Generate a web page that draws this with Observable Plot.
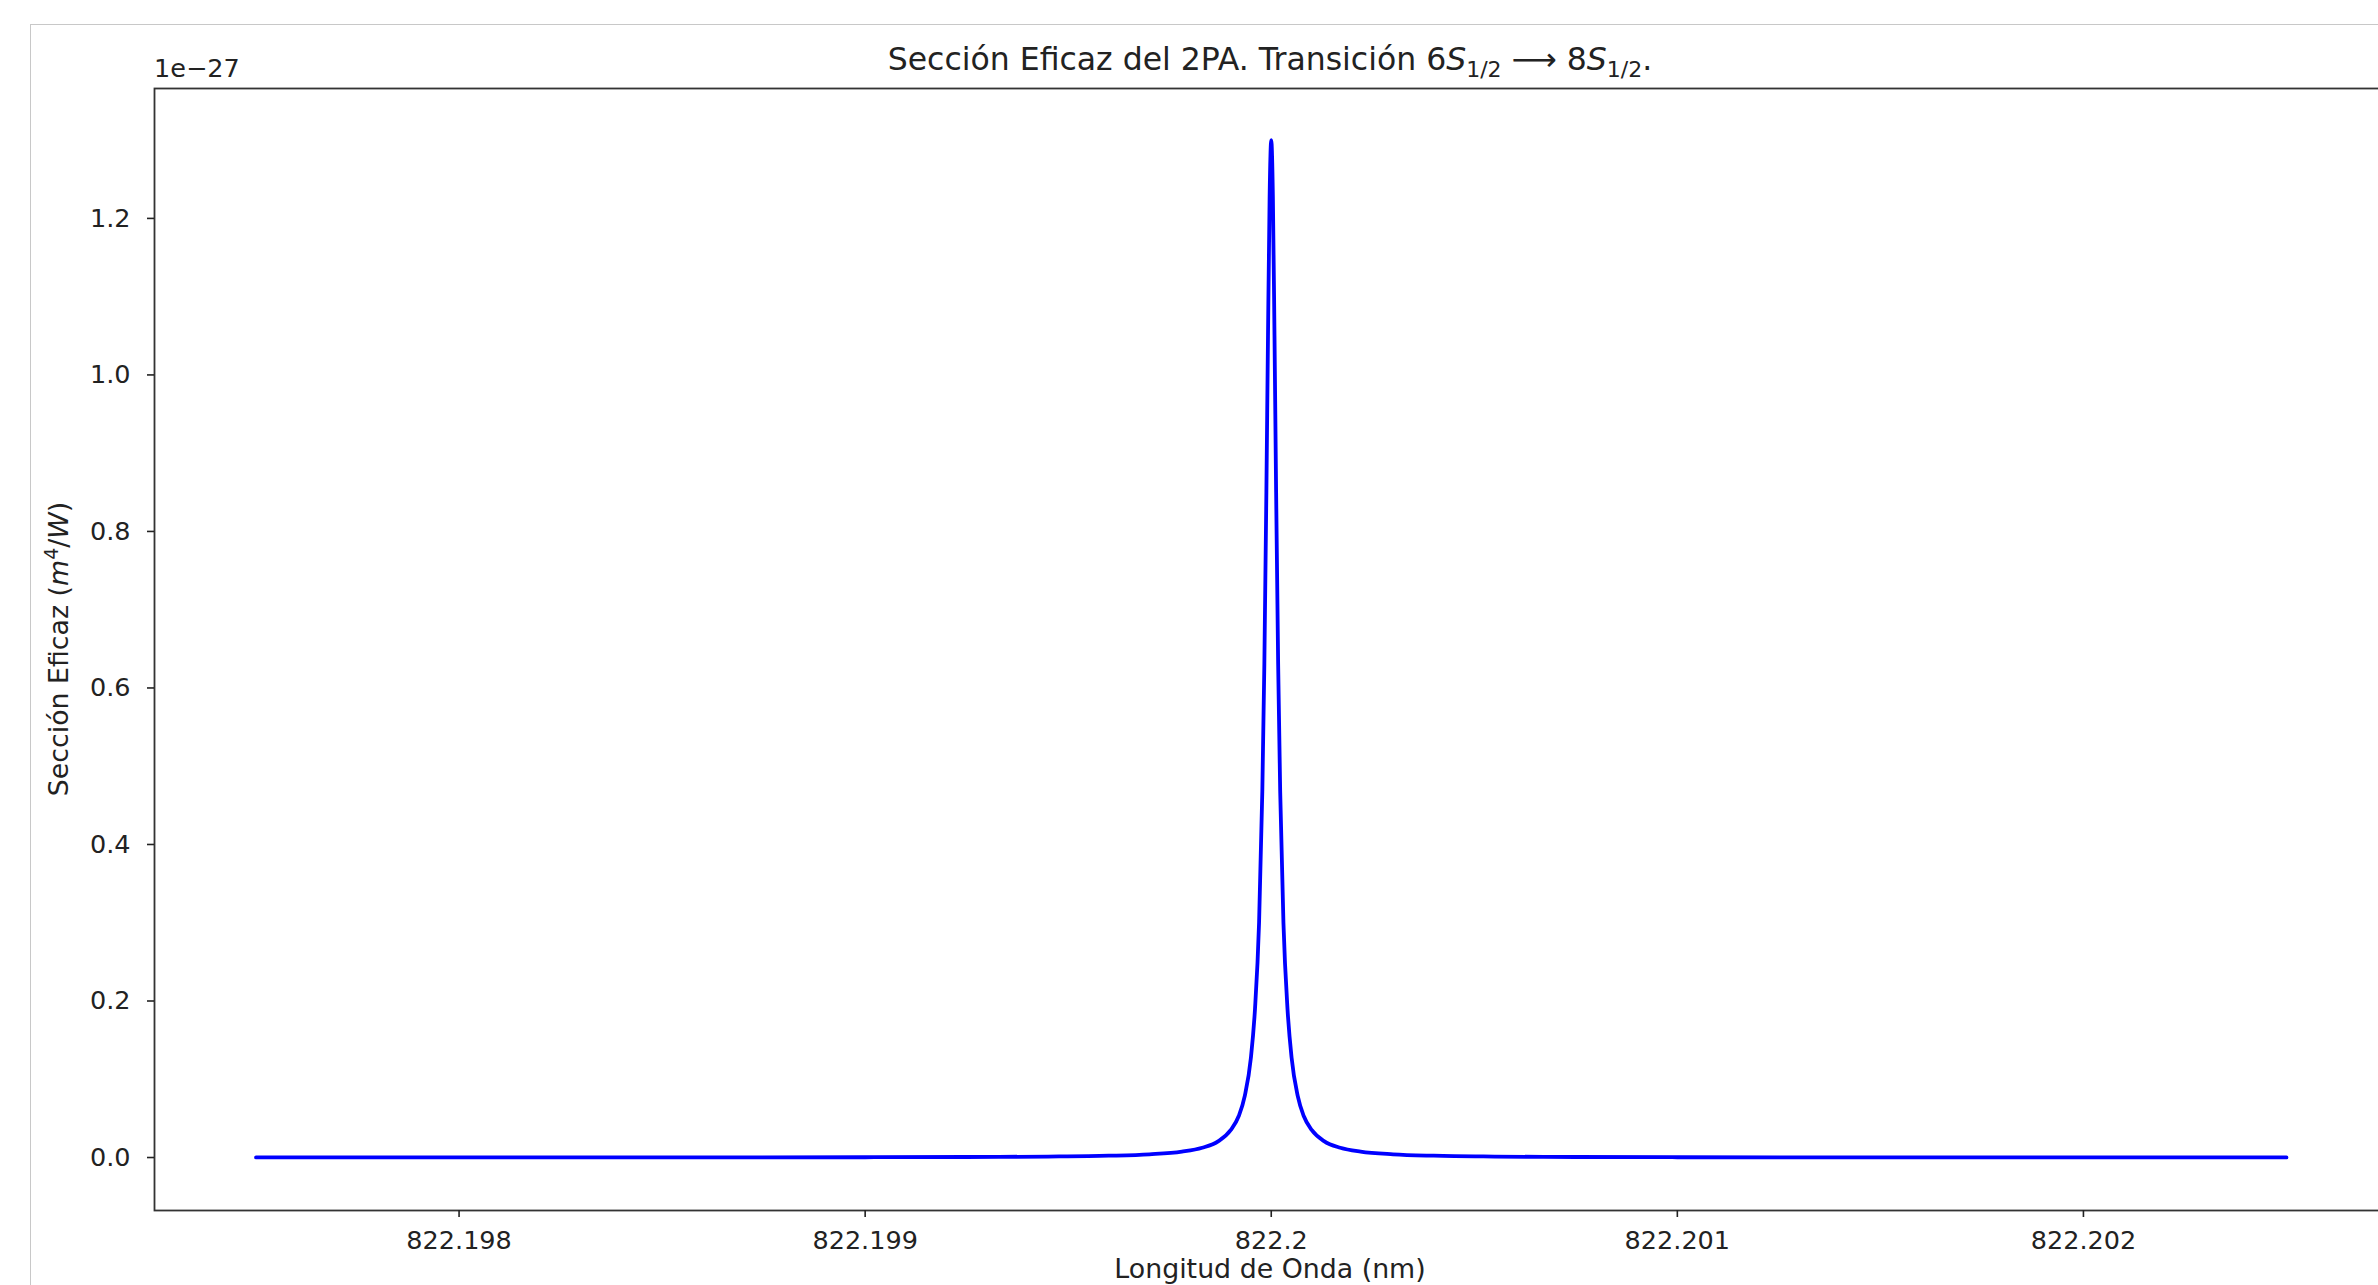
<!DOCTYPE html>
<html>
<head>
<meta charset="utf-8">
<script src="https://cdn.jsdelivr.net/npm/d3@7"></script>
<script src="https://cdn.jsdelivr.net/npm/@observablehq/plot@0.6"></script>
<style>
  html, body { margin: 0; padding: 0; background: #fff; overflow: hidden; width: 2378px; height: 1285px; }
  #wrap { position: relative; width: 2378px; height: 1285px; overflow: hidden; }
  #cell { position: absolute; left: 30px; top: 24px; width: 2420px; height: 1320px; border: 1px solid #c8c8c8; box-sizing: border-box; }
  #chart { position: absolute; left: 0; top: 0; width: 2420px; height: 1300px; }
  #chart svg { max-width: none !important; width: 2420px !important; height: 1300px !important; }
</style>
</head>
<body>
<div id="wrap"><div id="cell"></div><div id="chart"></div></div>
<script>
const wavelengths = [
  822.1975, 822.198, 822.1985, 822.199, 822.19925, 822.19945, 822.1996, 822.1997,
  822.19978, 822.19983, 822.19987, 822.1999, 822.19992, 822.199935, 822.19995, 822.19996,
  822.19997, 822.199978, 822.199983, 822.199988, 822.199992, 822.199996, 822.2,
  822.200004, 822.200008, 822.200012, 822.200017, 822.200022, 822.20003, 822.20004,
  822.20005, 822.200065, 822.20008, 822.2001, 822.20013, 822.20017, 822.20022, 822.2003,
  822.2004, 822.20055, 822.20075, 822.201, 822.2015, 822.202, 822.2025
];
// Cross section in units of 1e-27 m^4/W
const crossSection = [
  0.00006, 0.00009, 0.00017, 0.00037, 0.00066, 0.0012, 0.0023, 0.0041,
  0.0075, 0.0125, 0.021, 0.035, 0.053, 0.079, 0.128, 0.19,
  0.30, 0.468, 0.63, 0.85, 1.05, 1.228, 1.300,
  1.228, 1.05, 0.85, 0.63, 0.468, 0.30, 0.19,
  0.128, 0.079, 0.053, 0.035, 0.021, 0.0125, 0.0075, 0.0041,
  0.0023, 0.0012, 0.00066, 0.00037, 0.00017, 0.00009, 0.00006
];
const yTicks = [0.0, 0.2, 0.4, 0.6, 0.8, 1.0, 1.2];
const yTickLabels = ["0.0", "0.2", "0.4", "0.6", "0.8", "1.0", "1.2"];
const xTicks = [822.198, 822.199, 822.2, 822.201, 822.202];
const xTickLabels = ["822.198", "822.199", "822.2", "822.201", "822.202"];
const offsetText = "1e\u221227";
const xLabel = "Longitud de Onda (nm)";

const data = wavelengths.map((w, i) => ({w, s: crossSection[i]}));
const xLabelMap = new Map(xTicks.map((t, i) => [t, xTickLabels[i]]));
const yLabelMap = new Map(yTicks.map((t, i) => [t, yTickLabels[i]]));

const W = 2420, H = 1300;
const chart = Plot.plot({
  width: W,
  height: H,
  marginLeft: 154,
  marginRight: 32.5,
  marginTop: 88,
  marginBottom: 90,
  style: {fontFamily: "'DejaVu Sans', sans-serif", fontSize: "25.5px", color: "#222", background: "transparent", overflow: "visible", maxWidth: "none"},
  x: {type: "linear", domain: [822.19725, 822.20275]},
  y: {type: "linear", domain: [-0.0677, 1.366]},
  marks: [
    Plot.line(data, {x: "w", y: "s", stroke: "#0000ff", strokeWidth: 3.8, curve: "monotone-x"}),
    Plot.frame({stroke: "#333", strokeWidth: 1.8}),
    Plot.axisY({ticks: yTicks, tickFormat: d => yLabelMap.get(d), tickSize: 7, tickPadding: 17, strokeWidth: 1.6, fontSize: 25.5, label: null}),
    Plot.axisX({ticks: xTicks, tickFormat: d => xLabelMap.get(d), tickSize: 7, tickPadding: 13, strokeWidth: 1.6, fontSize: 25.5, label: null})
  ]
});
document.getElementById("chart").appendChild(chart);

const svg = d3.select(chart);
const fam = "'DejaVu Sans', sans-serif";

// Title
const t = svg.append("text").attr("x", 1270).attr("y", 70).attr("text-anchor", "middle")
  .attr("font-size", 31.5).attr("font-family", fam).attr("fill", "#222");
t.append("tspan").text("Sección Eficaz del 2PA. Transición 6");
t.append("tspan").attr("font-style", "italic").text("S");
t.append("tspan").attr("font-size", 22).attr("dy", 7).text("1/2");
t.append("tspan").attr("dy", -7).text(" \u27F6 8");
t.append("tspan").attr("font-style", "italic").text("S");
t.append("tspan").attr("font-size", 22).attr("dy", 7).text("1/2");
t.append("tspan").attr("dy", -7).text(".");

// Offset text
svg.append("text").attr("x", 154).attr("y", 77).attr("text-anchor", "start").attr("font-size", 25.5)
  .attr("font-family", fam).attr("fill", "#222").text(offsetText);

// Y label
const yl = svg.append("text").attr("transform", "translate(59,649) rotate(-90)")
  .attr("text-anchor", "middle").attr("dy", "0.35em").attr("font-size", 26.8)
  .attr("font-family", fam).attr("fill", "#222");
yl.append("tspan").text("Sección Eficaz (");
yl.append("tspan").attr("font-style", "italic").text("m");
yl.append("tspan").attr("font-size", 19).attr("dy", -10).text("4");
yl.append("tspan").attr("dy", 10).text("/");
yl.append("tspan").attr("font-style", "italic").text("W");
yl.append("tspan").text(")");

// X label
svg.append("text").attr("x", 1270).attr("y", 1278).attr("text-anchor", "middle")
  .attr("font-size", 26.8).attr("font-family", fam).attr("fill", "#222").text(xLabel);
</script>
</body>
</html>
